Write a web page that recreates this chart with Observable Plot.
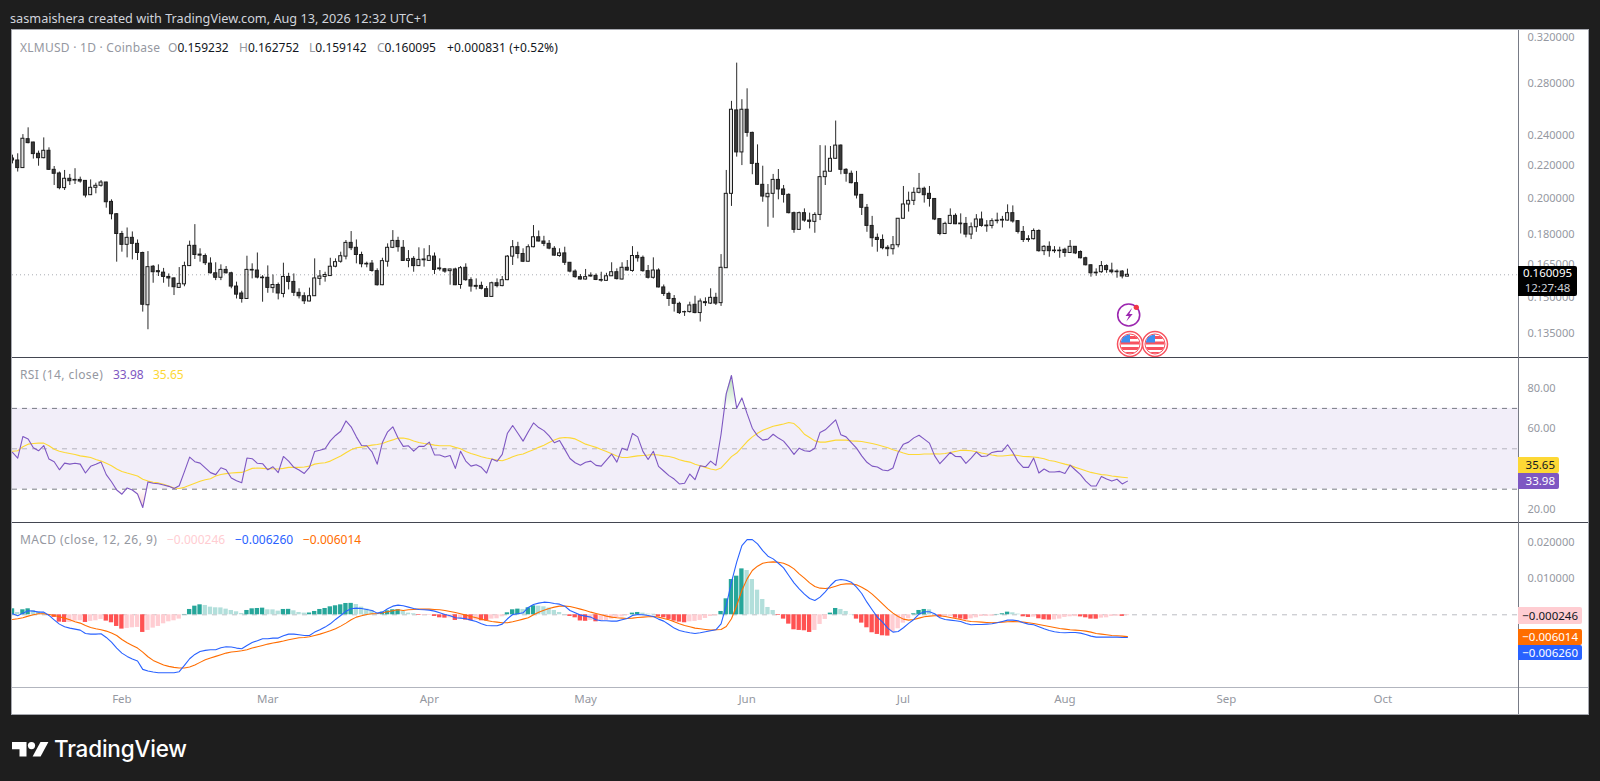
<!DOCTYPE html>
<html><head><meta charset="utf-8">
<script src="https://cdn.jsdelivr.net/npm/d3@7"></script>
<script src="https://cdn.jsdelivr.net/npm/@observablehq/plot@0.6"></script>
<style>
html,body{margin:0;padding:0;background:#1e1e1e;overflow:hidden}
#stage{position:relative;width:1600px;height:781px;font-family:"Noto Sans",sans-serif;overflow:hidden}
#stage svg{position:absolute;left:0;background:transparent}
.t{position:absolute;white-space:nowrap;line-height:16px;font-size:12px}
.box{position:absolute}
.tag{position:absolute;left:1518px;font-size:11.5px;text-align:right;padding-right:4px;box-sizing:border-box;border-radius:0 2px 2px 0}
</style></head><body><div id="stage"></div>
<script>
const firstDay = new Date(Date.UTC(2026,0,11));
const lastDomainDay = 289.06;
const monthTicks = ["2026-02-01","2026-03-01","2026-04-01","2026-05-01","2026-06-01","2026-07-01","2026-08-01","2026-09-01","2026-10-01"];
const priceTicks = [.135,.15,.165,.18,.2,.22,.24,.28,.32];
const rsiTicks = [20,60,80];
const macdTicks = [.01,.02];
const lastPrice = .160095;

const opens = [.2247,.2234,.2185,.2377,.2354,.2278,.2249,.2298,.2174,.2151,
.2061,.2118,.2111,.2111,.2105,.2019,.2063,.2075,.2095,.1980,
.1910,.1803,.1747,.1783,.1752,.1706,.1465,.1639,.1618,.1611,
.1591,.1584,.1541,.1557,.1642,.1742,.1698,.1691,.1654,.1608,
.1587,.1624,.1608,.1547,.1516,.1492,.1624,.1621,.1588,.1587,
.1540,.1554,.1514,.1591,.1568,.1519,.1504,.1481,.1504,.1582,
.1591,.1595,.1639,.1663,.1688,.1757,.1732,.1696,.1653,.1654,
.1618,.1553,.1663,.1732,.1767,.1732,.1667,.1677,.1642,.1674,
.1667,.1688,.1631,.1627,.1618,.1626,.1554,.1634,.1576,.1550,
.1550,.1535,.1501,.1562,.1549,.1576,.1688,.1735,.1701,.1663,
.1735,.1786,.1764,.1752,.1727,.1691,.1704,.1658,.1616,.1590,
.1579,.1597,.1596,.1577,.1573,.1594,.1613,.1579,.1634,.1619,
.1691,.1682,.1618,.1587,.1621,.1543,.1514,.1492,.1471,.1436,
.1436,.1467,.1432,.1478,.1472,.1497,.1474,.1632,.2027,.2585,
.2287,.2590,.2421,.2212,.2081,.2007,.2027,.2111,.2053,.2021,
.1916,.1825,.1916,.1875,.1868,.1906,.2128,.2162,.2245,.2333,
.2174,.2149,.2091,.2021,.1946,.1846,.1783,.1772,.1732,.1725,
.1745,.1885,.1965,.1986,.2033,.2057,.2027,.1997,.1883,.1803,
.1857,.1901,.1859,.1857,.1800,.1839,.1881,.1848,.1846,.1875,
.1879,.1875,.1916,.1872,.1814,.1776,.1776,.1819,.1715,.1737,
.1718,.1718,.1722,.1706,.1737,.1711,.1680,.1646,.1611,.1613,
.1642,.1621,.1616,.1616,.159232];
const closes = [.2234,.2185,.2380,.2350,.2276,.2249,.2298,.2174,.2149,.2061,
.2118,.2103,.2107,.2101,.2017,.2063,.2075,.2095,.1978,.1910,
.1803,.1747,.1783,.1752,.1706,.1467,.1637,.1613,.1613,.1591,
.1584,.1544,.1559,.1642,.1742,.1696,.1693,.1656,.1608,.1587,
.1624,.1608,.1547,.1511,.1492,.1624,.1621,.1588,.1585,.1541,
.1554,.1516,.1591,.1568,.1519,.1504,.1482,.1504,.1584,.1593,
.1600,.1639,.1661,.1690,.1757,.1730,.1696,.1651,.1650,.1619,
.1553,.1666,.1732,.1767,.1735,.1667,.1675,.1642,.1672,.1670,
.1690,.1624,.1627,.1616,.1626,.1553,.1632,.1576,.1547,.1546,
.1537,.1501,.1562,.1549,.1576,.1688,.1735,.1701,.1663,.1735,
.1786,.1764,.1752,.1728,.1693,.1704,.1658,.1616,.1590,.1579,
.1590,.1593,.1577,.1574,.1594,.1613,.1581,.1634,.1621,.1691,
.1680,.1618,.1587,.1621,.1543,.1514,.1492,.1471,.1432,.1435,
.1464,.1432,.1481,.1474,.1497,.1472,.1634,.2027,.2590,.2287,
.2590,.2421,.2212,.2081,.2011,.2027,.2111,.2053,.2021,.1916,
.1825,.1916,.1875,.1868,.1906,.2128,.2162,.2245,.2333,.2174,
.2149,.2091,.2017,.1946,.1846,.1781,.1772,.1730,.1725,.1745,
.1885,.1965,.1986,.2033,.2057,.2019,.1997,.1881,.1803,.1857,
.1901,.1855,.1855,.1800,.1839,.1881,.1846,.1844,.1872,.1872,
.1875,.1916,.1870,.1814,.1772,.1772,.1819,.1715,.1737,.1715,
.1715,.1715,.1706,.1737,.1704,.1680,.1646,.1608,.1608,.1642,
.1623,.1613,.1613,.1593,.160095];
const highs = [.2269,.2278,.2409,.2457,.2356,.2296,.2386,.2318,.2195,.2160,
.2170,.2145,.2181,.2128,.2107,.2111,.2091,.2107,.2097,.1992,
.1914,.1817,.1835,.1814,.1772,.1710,.1713,.1645,.1648,.1631,
.1605,.1587,.1635,.1661,.1766,.1853,.1727,.1701,.1682,.1658,
.1648,.1640,.1613,.1567,.1526,.1690,.1653,.1706,.1597,.1643,
.1600,.1563,.1656,.1608,.1605,.1537,.1519,.1540,.1677,.1621,
.1613,.1680,.1677,.1710,.1769,.1816,.1772,.1710,.1661,.1669,
.1629,.1680,.1752,.1821,.1786,.1769,.1718,.1688,.1732,.1727,
.1743,.1706,.1677,.1631,.1627,.1632,.1640,.1653,.1587,.1582,
.1567,.1547,.1567,.1582,.1593,.1693,.1769,.1760,.1727,.1747,
.1848,.1819,.1791,.1769,.1738,.1727,.1735,.1659,.1624,.1602,
.1626,.1610,.1605,.1613,.1608,.1658,.1629,.1658,.1669,.1738,
.1710,.1691,.1645,.1682,.1629,.1554,.1522,.1507,.1478,.1440,
.1478,.1504,.1492,.1497,.1537,.1517,.1698,.2170,.2654,.2967,
.2667,.2753,.2426,.2338,.2197,.2083,.2145,.2176,.2077,.2027,
.1922,.1922,.1940,.1916,.1918,.2333,.2331,.2327,.2506,.2338,
.2181,.2166,.2164,.2021,.1965,.1898,.1803,.1798,.1743,.1790,
.1885,.2071,.2037,.2063,.2151,.2067,.2071,.1997,.1885,.1866,
.1940,.1912,.1912,.1892,.1862,.1908,.1922,.1875,.1885,.1916,
.1898,.1963,.1957,.1873,.1843,.1794,.1830,.1825,.1743,.1762,
.1738,.1735,.1730,.1769,.1738,.1716,.1685,.1648,.1629,.1664,
.1648,.1656,.1624,.1621,.162752];
const lows = [.2212,.2160,.2183,.2345,.2243,.2197,.2245,.2170,.2077,.2051,
.2047,.2077,.2083,.2091,.2003,.2017,.2027,.2067,.1944,.1879,
.1661,.1710,.1682,.1672,.1669,.1436,.1364,.1562,.1593,.1562,
.1544,.1507,.1540,.1546,.1640,.1674,.1661,.1645,.1605,.1574,
.1574,.1605,.1537,.1492,.1474,.1491,.1582,.1582,.1478,.1517,
.1517,.1488,.1497,.1532,.1503,.1492,.1468,.1480,.1503,.1551,
.1567,.1593,.1634,.1656,.1672,.1718,.1653,.1634,.1634,.1613,
.1549,.1551,.1637,.1728,.1710,.1666,.1634,.1613,.1640,.1637,
.1666,.1602,.1618,.1608,.1553,.1551,.1535,.1571,.1522,.1532,
.1532,.1500,.1500,.1541,.1546,.1574,.1645,.1677,.1659,.1661,
.1732,.1762,.1738,.1722,.1690,.1685,.1645,.1610,.1585,.1577,
.1577,.1590,.1574,.1567,.1571,.1593,.1577,.1577,.1618,.1613,
.1661,.1613,.1581,.1581,.1541,.1503,.1460,.1436,.1426,.1418,
.1432,.1429,.1395,.1460,.1468,.1464,.1460,.1631,.1954,.2256,
.2201,.2391,.2143,.2077,.1978,.1839,.1888,.1992,.1973,.1912,
.1807,.1823,.1866,.1830,.1807,.1875,.2077,.2160,.2243,.2143,
.2097,.2087,.1997,.1903,.1812,.1735,.1710,.1722,.1688,.1696,
.1732,.1883,.1922,.1959,.2027,.1973,.1950,.1875,.1794,.1800,
.1853,.1853,.1803,.1783,.1774,.1812,.1839,.1812,.1830,.1857,
.1835,.1872,.1861,.1803,.1759,.1760,.1772,.1710,.1693,.1685,
.1704,.1680,.1685,.1704,.1698,.1677,.1643,.1590,.1594,.1608,
.1608,.1605,.1585,.1582,.159142];

const rsi = [48.2,45.4,56.1,54.8,50.5,49.0,51.6,44.9,43.6,39.6,
42.9,42.4,42.8,42.4,38.0,41.3,42.3,43.4,37.2,33.7,
29.6,27.5,30.6,29.6,27.6,20.9,33.6,32.9,32.7,32.1,
31.4,30.3,31.7,38.7,45.9,43.6,42.9,40.5,38.2,37.2,
40.6,39.6,35.5,34.2,33.2,45.4,45.1,42.8,42.6,39.6,
41.1,38.2,46.2,43.9,40.8,39.5,37.8,40.8,48.7,49.3,
50.0,53.9,56.6,58.7,63.8,60.9,55.9,51.6,51.5,48.5,
42.4,53.1,58.4,60.9,55.3,51.2,51.5,48.8,51.2,51.2,
53.3,47.0,46.9,45.9,46.7,40.3,48.8,43.9,41.4,42.1,
40.8,38.0,44.9,43.8,47.2,57.7,61.5,57.7,53.8,58.4,
62.8,60.5,59.0,56.4,53.0,54.1,49.7,45.2,43.1,41.9,
43.3,43.9,41.8,41.4,44.4,47.4,43.4,50.3,49.3,57.6,
55.9,48.7,44.7,48.8,41.3,39.0,36.7,35.0,32.6,32.9,
37.5,34.7,41.6,41.1,43.9,41.8,57.2,77.3,86.3,70.1,
75.2,67.4,60.2,56.4,54.3,54.8,57.2,55.3,53.8,50.7,
47.2,50.3,49.0,48.7,50.3,58.1,59.4,61.8,64.3,56.9,
55.9,53.1,50.3,46.5,43.3,41.4,41.0,39.5,39.1,40.5,
48.2,52.3,53.3,55.4,56.7,54.8,52.8,46.5,42.6,45.4,
48.2,46.2,46.1,42.8,45.4,48.4,46.2,46.4,48.2,48.7,
48.8,52.0,48.2,43.6,40.8,40.8,45.4,38.0,40.0,38.5,
38.5,38.8,37.8,41.9,39.5,37.2,34.0,31.6,31.6,36.3,
35.0,34.0,34.9,32.6,33.98];
const rsiMA = [48.8,49.0,51.0,52.3,52.6,52.8,52.8,51.5,49.8,48.8,
48.2,47.7,47.2,46.5,46.1,45.7,44.7,43.9,42.8,41.6,
40.0,38.8,38.0,37.3,36.5,34.9,34.0,33.4,33.1,32.4,
31.6,30.6,30.3,30.9,31.9,32.9,33.9,34.7,35.2,36.5,
37.3,37.7,38.0,38.2,38.3,39.3,40.3,40.5,40.3,40.1,
40.1,40.0,40.3,40.8,40.8,40.8,41.0,41.4,42.4,42.8,
43.1,43.9,45.2,46.4,48.0,49.5,50.5,50.8,51.3,51.8,
52.1,52.6,53.6,54.4,55.3,55.3,54.8,53.9,53.1,52.6,
52.3,51.8,51.5,51.5,51.5,50.7,50.0,48.7,47.7,46.9,
46.1,45.4,44.9,44.4,44.1,44.9,46.1,46.9,47.4,48.5,
49.5,50.7,51.8,53.1,54.3,55.3,55.6,55.4,54.9,53.6,
52.3,51.5,50.7,49.7,48.7,47.5,46.4,45.7,45.7,46.1,
46.5,46.7,46.9,47.2,46.9,46.5,46.2,45.6,44.6,43.9,
43.4,42.3,41.6,40.8,40.0,39.5,40.5,43.3,46.1,47.9,
50.7,53.6,55.9,57.7,59.2,60.2,61.2,61.7,62.3,63.0,
62.5,60.2,57.2,55.6,53.9,53.3,53.3,53.8,54.3,54.3,
54.3,53.9,53.8,53.6,53.1,52.6,52.0,51.3,50.5,49.5,
48.8,47.9,47.2,47.2,47.2,47.4,47.4,47.5,47.4,47.7,
48.2,48.7,49.3,49.2,49.0,48.5,47.9,47.4,46.9,46.5,
46.4,46.7,47.0,46.7,46.2,46.1,45.9,45.6,45.1,44.2,
43.8,43.1,42.4,41.8,40.8,40.0,39.1,38.3,37.8,37.2,
37.0,36.5,36.2,35.9,35.65];

// MACD series, in thousandths of a dollar
const macdLine = [.28,-.28,.46,1.10,1.01,.73,.73,-.18,-1.38,-2.57,
-3.30,-3.67,-3.94,-4.22,-5.14,-5.32,-5.32,-5.23,-6.24,-7.52,
-9.17,-10.55,-11.46,-12.20,-12.75,-15.04,-15.50,-15.77,-15.96,-15.96,
-15.96,-15.96,-15.68,-13.94,-12.10,-10.91,-10.09,-9.81,-9.63,-9.63,
-9.08,-8.80,-8.89,-9.17,-9.35,-8.44,-7.61,-7.15,-6.60,-6.60,
-6.42,-6.42,-5.78,-5.32,-5.32,-5.50,-5.69,-5.69,-4.77,-4.13,
-3.39,-2.48,-1.28,-.18,1.01,1.65,1.83,1.74,1.47,1.19,
.46,.73,1.65,2.38,2.66,2.48,2.11,1.74,1.47,1.38,
1.28,1.01,.55,.09,-.28,-.83,-.92,-1.10,-1.47,-1.83,
-2.48,-2.93,-3.03,-3.03,-2.57,-1.10,.09,.28,.55,2.02,
2.84,3.21,3.48,3.39,3.12,2.93,2.38,1.19,.55,-.09,
-.37,-.64,-1.38,-1.65,-1.65,-1.74,-1.74,-1.38,-1.01,-.18,
.09,0,-.18,-.46,-1.19,-1.74,-2.66,-3.67,-4.31,-4.68,
-4.95,-5.14,-4.95,-4.68,-4.40,-4.13,-2.48,2.57,8.99,14.49,
19.07,20.72,20.72,19.53,17.70,16.14,15.41,14.21,12.93,10.82,
8.80,7.15,5.69,4.49,3.94,4.86,6.33,8.07,9.45,9.72,
9.54,8.99,7.61,5.87,3.48,1.38,-.64,-2.02,-3.67,-4.77,
-4.59,-3.58,-2.38,-1.28,.18,.83,.83,.28,-.83,-1.28,
-1.47,-1.65,-1.83,-2.38,-2.75,-2.66,-2.66,-2.57,-2.48,-2.20,
-1.83,-1.47,-1.47,-1.65,-2.20,-2.57,-2.75,-3.30,-3.85,-4.31,
-4.68,-4.86,-4.95,-4.86,-4.86,-5.04,-5.41,-5.87,-6.14,-6.14,
-6.14,-6.14,-6.14,-6.24,-6.26];
const signalLine = [-1.28,-1.10,-.83,-.37,0,.28,.28,.09,-.18,-.55,
-.92,-1.38,-1.93,-2.29,-2.93,-3.48,-3.85,-4.13,-4.49,-5.04,
-5.69,-6.79,-7.70,-8.44,-9.17,-10.27,-11.55,-12.56,-13.20,-13.85,
-14.21,-14.49,-14.67,-14.67,-14.40,-13.85,-13.11,-12.38,-11.92,-11.46,
-11.00,-10.55,-10.27,-10.09,-9.90,-9.63,-9.17,-8.80,-8.44,-8.07,
-7.79,-7.52,-7.24,-6.88,-6.60,-6.33,-6.24,-6.05,-5.69,-5.32,
-4.86,-4.40,-3.85,-3.12,-2.29,-1.38,-.64,-.28,.09,.28,
.37,.55,.83,1.10,1.38,1.19,1.38,1.47,1.56,1.56,
1.56,1.47,1.38,1.19,.92,.64,.28,-.09,-.46,-.83,
-1.19,-1.56,-1.83,-2.02,-2.20,-2.20,-1.93,-1.56,-1.19,-.83,
0,.73,1.28,1.74,2.11,2.38,2.38,2.29,1.93,1.56,
1.19,.73,.37,0,-.37,-.64,-.83,-.92,-1.01,-.92,
-.73,-.64,-.55,-.46,-.64,-1.01,-1.38,-1.93,-2.48,-2.93,
-3.30,-3.67,-3.85,-4.03,-4.22,-4.13,-4.03,-3.21,-1.10,2.57,
6.69,9.90,12.20,13.39,14.21,14.49,14.58,14.49,14.21,13.57,
12.65,11.28,10.09,8.80,7.79,7.34,7.24,7.43,7.89,8.34,
8.53,8.53,8.25,7.61,6.79,5.69,4.40,3.03,1.65,.46,
-.46,-1.19,-1.47,-1.28,-.92,-.55,-.37,-.28,-.28,-.46,
-.73,-1.01,-1.28,-1.65,-1.83,-1.93,-2.02,-2.11,-2.20,-2.11,
-2.02,-1.93,-1.83,-1.93,-2.02,-2.20,-2.38,-2.66,-2.93,-3.21,
-3.48,-3.76,-3.94,-4.13,-4.22,-4.31,-4.49,-4.77,-5.14,-5.32,
-5.50,-5.69,-5.78,-5.87,-6.014];
const histogram = [1.65,.64,1.38,1.65,1.19,.83,.55,-.18,-.73,-2.02,
-2.11,-2.11,-1.74,-1.65,-2.11,-1.83,-1.65,-1.28,-1.74,-2.20,
-3.21,-3.94,-3.76,-3.58,-3.48,-4.86,-4.31,-3.67,-3.21,-2.48,
-1.93,-1.65,-1.19,.09,1.47,2.38,2.75,2.57,2.11,1.93,
1.90,1.56,1.19,.83,.37,1.19,1.65,1.74,1.83,1.38,
1.36,1.01,1.47,1.50,1.10,.64,.46,.50,.92,1.47,
1.74,2.20,2.48,2.75,3.12,3.15,2.84,2.11,1.56,1.19,
.37,.73,1.10,1.38,1.42,.92,.46,.28,-.18,-.18,
-.17,-.46,-.83,-.92,-.83,-1.56,-1.10,-1.47,-1.65,-1.47,
-1.65,-1.70,-1.19,-1.10,-.55,.55,1.38,1.56,1.47,1.93,
2.48,2.38,2.20,1.83,1.19,.64,.09,-.46,-.83,-1.70,
-1.79,-1.56,-1.93,-1.65,-1.56,-1.19,-.83,-.55,-.18,.46,
.64,.46,.18,.16,-.55,-.83,-1.28,-1.74,-2.02,-2.20,
-1.93,-1.83,-1.56,-1.01,-.46,-.28,.92,4.40,9.72,10.64,
12.65,12.20,9.72,6.79,4.22,2.02,1.19,-.18,-1.19,-2.57,
-4.13,-4.31,-4.40,-4.86,-4.31,-2.66,-1.28,.46,1.74,1.47,
.92,.09,-1.19,-2.29,-3.58,-4.95,-5.41,-5.78,-5.87,-4.77,
-3.85,-2.29,-1.10,.28,1.19,1.47,1.38,.09,-.64,-.60,
-.50,-.92,-1.19,-1.38,-1.10,-.83,-.46,-.44,-.40,.09,
.28,.73,.55,.18,-.55,-.73,-.64,-1.10,-1.38,-1.47,
-1.40,-1.19,-.73,-.55,-.50,-.58,-.83,-1.19,-1.21,-.92,
-.83,-.46,-.37,-.44,-.246];

const rows = opens.map((o,i)=>({
  date:d3.utcDay.offset(firstDay,i), open:o, close:closes[i], high:highs[i], low:lows[i],
  rsi:rsi[i], ma:rsiMA[i], macd:macdLine[i]/1000, signal:signalLine[i]/1000, hist:histogram[i]/1000,
  prev:i?histogram[i-1]/1000:0
}));
const xDomain=[firstDay,new Date(+firstDay+lastDomainDay*864e5)];
const hrs=(d,h)=>d3.utcHour.offset(d,h);
const TXT="#9598a1", FONT='"Noto Sans",sans-serif';
const base=(h,mb,y,marks,xAxis)=>Plot.plot({width:1600,height:h,marginLeft:12,marginRight:82,marginTop:0,marginBottom:mb,
  style:{background:"transparent",fontFamily:FONT,fontSize:"11px"},
  x:{type:"utc",domain:xDomain,axis:xAxis?undefined:null},y,color:{type:"identity"},marks});
const yAxis=(ticks,fmt)=>Plot.axisY({anchor:"right",ticks,tickFormat:fmt,tickSize:0,tickPadding:9,label:null,color:TXT,fontSize:11});

const pricePlot=base(327,0,{type:"log",domain:[.1258,.3263]},[
  Plot.ruleY([lastPrice],{stroke:"#9598a1",strokeWidth:1,strokeDasharray:"1 3",strokeOpacity:.8}),
  Plot.ruleX(rows,{x:"date",y1:"low",y2:"high",stroke:"#2a2a2a",strokeWidth:1,clip:"frame"}),
  Plot.rect(rows,{x1:d=>hrs(d.date,-7),x2:d=>hrs(d.date,7),y1:"open",y2:"close",
    fill:d=>d.close>=d.open?"#e4e4e4":"#3a3a3a",stroke:"#1c1c1c",strokeWidth:1,clip:"frame"}),
  yAxis(priceTicks,d3.format(".6f"))
]);
const gradient=(id,c,a0,a1)=>()=>{const s=d3.create("svg:defs");const g=s.append("linearGradient").attr("id",id).attr("x1",0).attr("x2",0).attr("y1",0).attr("y2",1);
  g.append("stop").attr("offset","0%").attr("stop-color",c).attr("stop-opacity",a0);
  g.append("stop").attr("offset","100%").attr("stop-color",c).attr("stop-opacity",a1);return s.node();};
const rsiPlot=base(165,0,{domain:[13.5,95.2]},[
  gradient("rsiUp","#66bb6a",.5,0),
  gradient("rsiDown","#ef5350",0,.25),
  Plot.rect([0],{y1:30,y2:70,fill:"#7e57c2",fillOpacity:.1}),
  Plot.ruleY([70,30],{stroke:"#787b86",strokeWidth:1,strokeDasharray:"5 5"}),
  Plot.ruleY([50],{stroke:"#787b86",strokeOpacity:.5,strokeWidth:1,strokeDasharray:"5 5"}),
  Plot.areaY(rows,{x:"date",y1:70,y2:d=>Math.max(d.rsi,70),fill:"url(#rsiUp)"}),
  Plot.areaY(rows,{x:"date",y1:30,y2:d=>Math.min(d.rsi,30),fill:"url(#rsiDown)"}),
  Plot.line(rows,{x:"date",y:"ma",stroke:"#fdd835",strokeWidth:1.1,clip:"frame"}),
  Plot.line(rows,{x:"date",y:"rsi",stroke:"#7e57c2",strokeWidth:1.1,clip:"frame"}),
  yAxis(rsiTicks,d3.format(".2f"))
]);
const histColor=d=>d.hist>=0?(d.hist>d.prev?"#26a69a":"#b2dfdb"):(d.hist<d.prev?"#ff5252":"#ffcdd2");
const macdPlot=base(192,27,{domain:[-.02003,.02543]},[
  Plot.ruleY([0],{stroke:"#787b86",strokeOpacity:.5,strokeWidth:1,strokeDasharray:"5 5"}),
  Plot.rect(rows,{x1:d=>hrs(d.date,-10),x2:d=>hrs(d.date,10),y1:0,y2:"hist",fill:histColor,clip:"frame"}),
  Plot.line(rows,{x:"date",y:"signal",stroke:"#ff6d00",strokeWidth:1.1,clip:"frame"}),
  Plot.line(rows,{x:"date",y:"macd",stroke:"#2962ff",strokeWidth:1.1,clip:"frame"}),
  yAxis(macdTicks,d3.format(".6f")),
  Plot.axisX({ticks:monthTicks.map(s=>new Date(s)),tickFormat:d3.utcFormat("%b"),tickSize:0,tickPadding:7,label:null,color:TXT,fontSize:11.5})
],true);

const stage=document.getElementById("stage");
const add=h=>stage.insertAdjacentHTML("beforeend",h);
const box=(x,y,w,h,c)=>add(`<div class="box" style="left:${x}px;top:${y}px;width:${w}px;height:${h}px;background:${c}"></div>`);
const text=(x,y,s,c,extra="")=>add(`<div class="t" style="left:${x}px;top:${y-8}px;color:${c};${extra}">${s}</div>`);

box(11,29,1578,686,"#a7a9b0");
box(12,30,1576,684,"#ffffff");
[[pricePlot,30],[rsiPlot,357],[macdPlot,522]].forEach(([p,t])=>{p.style.top=t+"px";stage.appendChild(p);});
box(12,357,1576,1,"#434651");
box(12,522,1576,1,"#434651");
box(12,687,1576,1,"#b2b5be");
box(1518,30,1,684,"#787b86");

// header
text(10,18,"sasmaishera created with TradingView.com, Aug 13, 2026 12:32 UTC+1","#d1d4dc","font-size:12.7px;");
// price legend
const V="#131722";
text(20,48,"XLMUSD · 1D · Coinbase",TXT,"letter-spacing:.25px;");
[[168,"O","0.159232"],[239,"H","0.162752"],[309,"L","0.159142"],[377,"C","0.160095"]].forEach(([x,a,b])=>
  text(x,48,`<span style="color:${TXT}">${a}</span>${b}`,V));
text(447,48,"+0.000831 (+0.52%)",V,"letter-spacing:.1px;");
// RSI legend
text(20,375,"RSI (14, close)",TXT,"letter-spacing:.4px;");
text(113,375,"33.98","#7e57c2");
text(153,375,"35.65","#fdd835");
// MACD legend
text(20,540,"MACD (close, 12, 26, 9)",TXT,"letter-spacing:.45px;");
text(167,540,"−0.000246","#ffcdd2");
text(235,540,"−0.006260","#2962ff");
text(303,540,"−0.006014","#ff6d00");

// price-scale tags
const tag=(top,h,w,bg,fg,s,extra="")=>add(`<div class="tag" style="top:${top}px;height:${h}px;width:${w}px;line-height:${h}px;background:${bg};color:${fg};${extra}">${s}</div>`);
add(`<div class="tag" style="top:266px;height:30px;width:59px;background:#000;color:#fff;text-align:center;padding:0;line-height:14.5px;font-size:11.5px"><div>0.160095</div><div style="color:#d1d4dc">12:27:48</div></div>`);
tag(457,16,41,"#fdd835","#131722","35.65");
tag(473,16,41,"#7e57c2","#fff","33.98");
tag(607,17,64,"#ffcdd2","#131722","−0.000246");
tag(629,16,64,"#ff6d00","#fff","−0.006014");
tag(645,15,64,"#2962ff","#fff","−0.006260");

// event badges
const flag=(cx,id)=>`<g transform="translate(${cx},344)"><clipPath id="${id}"><circle r="9.5"/></clipPath>
<circle r="12.5" fill="#fff" stroke="#f7525f" stroke-width="1.5"/><circle r="10" fill="#fff" stroke="#f7525f" stroke-width="1"/>
<g clip-path="url(#${id})"><rect x="-10" y="-8" width="20" height="3" fill="#f7525f"/><rect x="-10" y="-2.5" width="20" height="3" fill="#f7525f"/><rect x="-10" y="3" width="20" height="3" fill="#f7525f"/><rect x="-10" y="8" width="20" height="3" fill="#f7525f"/>
<rect x="-10" y="-10" width="10" height="8.5" fill="#3d8ff0"/></g></g>`;
add(`<svg width="1600" height="781" style="top:0;pointer-events:none"><defs><clipPath id="pane"><rect x="12" y="30" width="1506" height="327"/></clipPath></defs>
<g clip-path="url(#pane)"><circle cx="1128.7" cy="315" r="11" fill="#fff" stroke="#9c27b0" stroke-width="1.6"/>
<path d="M1131.5 308.5l-6 7.5h3.4l-2.6 5.5 6.4-7.6h-3.4l2.6-5.4z" fill="#9c27b0"/><circle cx="1136.3" cy="307.3" r="2.6" fill="#f23645"/>
${flag(1130,"fa")}${flag(1155,"fb")}</g>
<g transform="translate(12,742)" fill="#fff"><path d="M0 0h14.5v14.5h-7v-7.2H0z"/><circle cx="19.5" cy="3.6" r="3.6"/><path d="M28.5 0h7.9L28.6 14.5h-8z"/></g></svg>`);
text(54,749,"TradingView","#fff",'font-family:Inter,sans-serif;font-weight:500;font-size:22.5px;line-height:16px;letter-spacing:-.2px;');
</script></body></html>
